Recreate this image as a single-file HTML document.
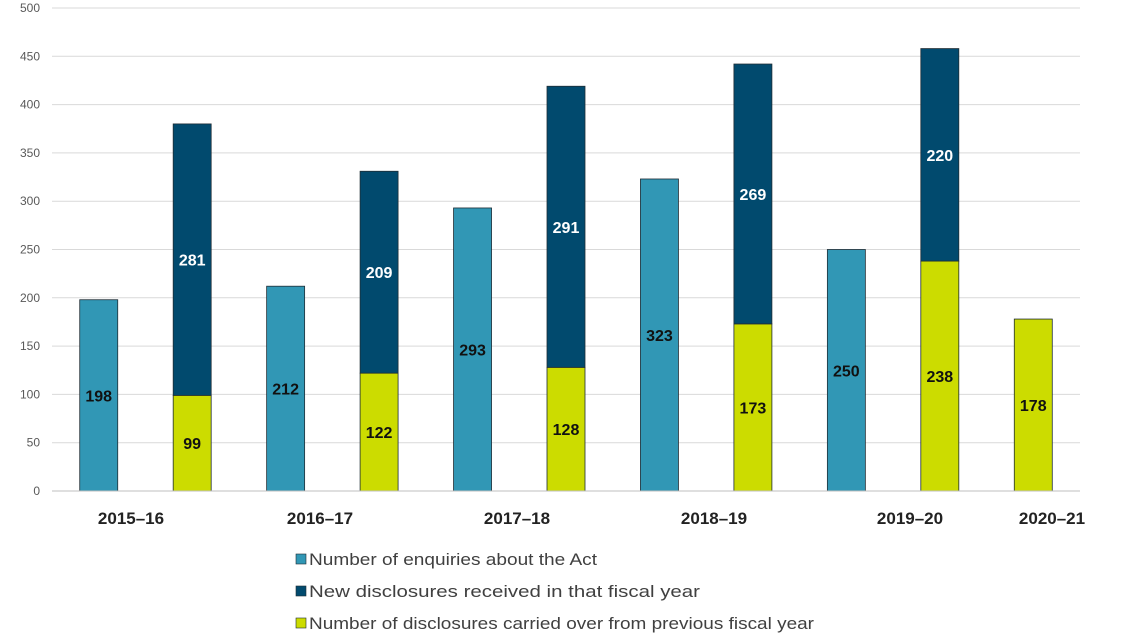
<!DOCTYPE html>
<html><head><meta charset="utf-8"><style>
html,body{margin:0;padding:0;background:#fff;}
svg{display:block;font-family:"Liberation Sans",Arial,sans-serif;}
</style></head><body>
<svg id="chart" width="1140" height="641" viewBox="0 0 1140 641" xmlns="http://www.w3.org/2000/svg"></svg>
<script>
const years = ["2015–16","2016–17","2017–18","2018–19","2019–20","2020–21"];
const enquiries = [198,212,293,323,250,null];
const carried = [99,122,128,173,238,178];
const newDisc = [281,209,291,269,220,null];
const yTicks = [0,50,100,150,200,250,300,350,400,450,500];
const labelX = [131,320,517,714,910,1052];

const NS="http://www.w3.org/2000/svg";
const svg=document.getElementById('chart');
const L=52,R=1080,Y0=491,Y1=8;
const y=v=>Y0-(v/500)*(Y0-Y1);
const slotW=(R-L)/11, bw=38;
const slotX=i=>L+slotW*(i+0.5);
function mk(t,a,p){const e=document.createElementNS(NS,t);for(const k in a)e.setAttribute(k,a[k]);(p||svg).appendChild(e);return e;}

yTicks.forEach(t=>{
  const g=mk('line',{x1:L,x2:R,y1:y(t),y2:y(t),stroke:'#d9d9d9','stroke-width':1});
  
  
  const tx=mk('text',{x:40,y:y(t)+4,'text-anchor':'end','font-size':12,fill:'#595959'});
  tx.textContent=t;
  
  
});

function bar(cx,v0,v1,fill,name){
  const r=mk('rect',{x:cx-bw/2,y:y(v1),width:bw,height:y(v0)-y(v1),fill:fill,stroke:'#1f2d35','stroke-width':0.8});
  
  
}
function lbl(cx,v,txt,col,name){
  const t=mk('text',{x:cx,y:y(v)+6,'text-anchor':'middle','font-size':16,'font-weight':'bold',fill:col});
  t.textContent=txt;
  
  
}
years.forEach((yr,i)=>{
  if(enquiries[i]!=null){
    const cx=slotX(2*i);
    bar(cx,0,enquiries[i],'#3197b5','bar-enquiries-'+yr);
    lbl(cx,enquiries[i]/2,enquiries[i],'#111','value-enquiries-'+yr);
  }
  const sx=slotX(Math.min(2*i+1,10));
  bar(sx,0,carried[i],'#ccdc00','bar-carried-'+yr);
  lbl(sx,carried[i]/2,carried[i],'#111','value-carried-'+yr);
  if(newDisc[i]!=null){
    bar(sx,carried[i],carried[i]+newDisc[i],'#014a6e','bar-new-'+yr);
    lbl(sx,carried[i]+newDisc[i]/2,newDisc[i],'#fff','value-new-'+yr);
  }
  const t=mk('text',{x:labelX[i],y:524,'text-anchor':'middle','font-size':17,'font-weight':'bold',fill:'#222'});
  t.textContent=yr;
  
  
});
mk('line',{x1:L,x2:R,y1:Y0,y2:Y0,stroke:'#bfbfbf','stroke-width':1});

const legend=[["Number of enquiries about the Act","#3197b5",288],["New disclosures received in that fiscal year","#014a6e",391],["Number of disclosures carried over from previous fiscal year","#ccdc00",505]];
legend.forEach((l,i)=>{
  const ly=559+i*32;
  const g=mk('g',{});
  
  
  mk('rect',{x:296,y:ly-5,width:10,height:10,fill:l[1],stroke:'#1f2d35','stroke-width':0.6},g);
  const t=mk('text',{x:309,y:ly+6,'font-size':17,fill:'#404040',textLength:l[2],lengthAdjust:'spacingAndGlyphs'},g);
  t.textContent=l[0];
});
</script>
</body></html>
